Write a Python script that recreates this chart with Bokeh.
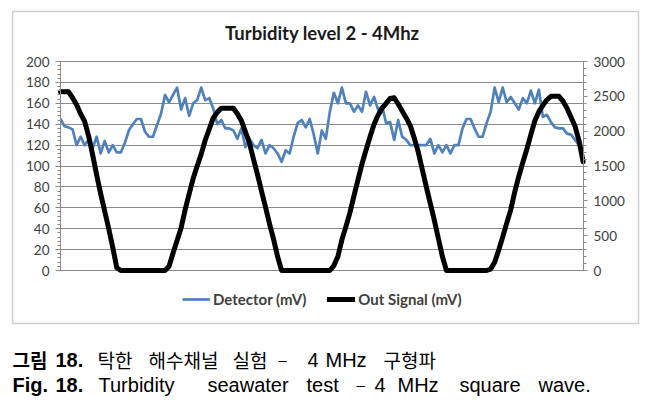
from bokeh.plotting import figure
from bokeh.models import (LinearAxis, Range1d, Label, Legend, LegendItem, Grid,
                          SingleIntervalTicker, BoxAnnotation)
from bokeh.embed import file_html
from bokeh.resources import INLINE

# ---- data ----
detector = [145, 138, 137, 135, 120, 128, 120, 125, 117, 128,
            112, 124, 113, 120, 113, 113, 122, 134, 140, 145,
            145, 133, 128, 128, 139, 150, 168, 161, 168, 175,
            154, 165, 148, 160, 163, 175, 163, 165, 155, 140,
            144, 136, 136, 134, 126, 136, 118, 126, 120, 117,
            125, 112, 120, 117, 112, 104, 115, 112, 128, 141,
            144, 137, 145, 130, 112, 134, 126, 152, 170, 160,
            175, 160, 160, 152, 158, 152, 171, 158, 166, 154,
            157, 141, 142, 125, 144, 128, 125, 120, 120, 120,
            120, 120, 126, 112, 120, 113, 120, 112, 120, 120,
            136, 145, 145, 136, 128, 128, 141, 152, 175, 161,
            175, 161, 166, 160, 154, 165, 160, 172, 160, 173,
            147, 149, 142, 137, 136, 136, 131, 130, 125, 120]

out_signal = [2565, 2565, 2565, 2480, 2380, 2250, 2140, 1930, 1660, 1370,
              1100, 850, 600, 330, 40, 0, 0, 0, 0, 0,
              0, 0, 0, 0, 0, 0, 0, 60, 250, 430,
              610, 870, 1100, 1320, 1500, 1670, 1870, 2030, 2190, 2270,
              2330, 2330, 2330, 2330, 2250, 2150, 1990, 1830, 1600, 1380,
              1140, 910, 670, 450, 200, 0, 0, 0, 0, 0,
              0, 0, 0, 0, 0, 0, 0, 0, 70, 200,
              440, 630, 830, 1070, 1300, 1530, 1730, 1920, 2100, 2230,
              2330, 2400, 2470, 2480, 2390, 2290, 2190, 2080, 1900, 1700,
              1450, 1200, 960, 720, 460, 200, 0, 0, 0, 0,
              0, 0, 0, 0, 0, 0, 0, 20, 120, 290,
              480, 680, 870, 1130, 1350, 1550, 1740, 1950, 2150, 2280,
              2370, 2450, 2500, 2500, 2500, 2430, 2330, 2200, 2070, 1860,
              1560]

t_det = list(range(len(detector)))
t_out = list(range(len(out_signal)))

left_max = 200
right_max = 3000
title_text = "Turbidity level 2  - 4Mhz"
series_names = ["Detector (mV)", "Out Signal (mV)"]
caption_kr = ["그림", "18.", "탁한", "해수채널", "실험", "–", "4", "MHz", "구형파"]
caption_en = ["Fig.", "18.", "Turbidity", "seawater", "test", "–", "4", "MHz", "square", "wave."]

# ---- layout: the frame fills the canvas; the plot area is placed by range padding ----
W, H = 659, 410
PL, PR, PT, PB = 60, 583, 61, 270      # plot-area pixel box
x_end_data = len(out_signal) - 1 + 0.1
xs = (PR - PL) / x_end_data
ys = (PB - PT) / left_max
x_range = Range1d(-PL / xs, x_end_data + (W - PR) / xs)
y_range = Range1d(-(H - PB) / ys, left_max + PT / ys)
ratio = right_max / left_max

p = figure(width=W, height=H, output_backend="svg", toolbar_location=None,
           x_range=x_range, y_range=y_range, min_border=0,
           background_fill_color="white", border_fill_color="white")
p.outline_line_color = None
p.xaxis.visible = False
p.xgrid.visible = False
p.ygrid.visible = False

p.extra_y_ranges = {"sig": Range1d(y_range.start * ratio, y_range.end * ratio)}

grid_col = "#8a8a8a"
axis_col = "#8a8a8a"
lab_col = "#404040"

left_ticker = SingleIntervalTicker(interval=20, num_minor_ticks=5)
right_ticker = SingleIntervalTicker(interval=500, num_minor_ticks=5)

grid_kw = dict(dimension=1, ticker=left_ticker, bounds=(0, left_max),
               grid_line_color=grid_col, grid_line_width=1)
if "cross_bounds" in Grid.properties():
    p.add_layout(Grid(cross_bounds=(0, x_end_data), **grid_kw))
    use_seg = False
else:
    use_seg = True

lax = p.yaxis[0]
lax.ticker = left_ticker
lax.bounds = (0, left_max)
lax.fixed_location = 0

rax = LinearAxis(y_range_name="sig", ticker=right_ticker, bounds=(0, right_max),
                 fixed_location=x_end_data)
p.add_layout(rax, "right")

for ax in (lax, rax):
    ax.axis_line_color = axis_col
    ax.axis_line_width = 1
    ax.major_tick_line_color = axis_col
    ax.minor_tick_line_color = axis_col
    ax.major_tick_in = 0
    ax.major_tick_out = 5
    ax.minor_tick_in = 0
    ax.minor_tick_out = 3
    ax.major_label_text_font = "Lato"
    ax.major_label_text_font_size = "13.5px"
    ax.major_label_text_color = lab_col
    ax.major_label_standoff = 6
rax.major_tick_out = 4

if use_seg:
    gy = list(range(0, left_max + 1, 20))
    p.segment(x0=[0] * len(gy), x1=[x_end_data] * len(gy), y0=gy, y1=gy,
              line_color=grid_col, line_width=1)

r_det = p.line(t_det, detector, line_color="#4F81BD", line_width=2.7, line_join="round")
r_out = p.line(t_out, out_signal, y_range_name="sig", line_color="black",
               line_width=5, line_join="round", line_cap="round")

legend = Legend(items=[LegendItem(label=series_names[0], renderers=[r_det]),
                       LegendItem(label=series_names[1], renderers=[r_out])],
                orientation="horizontal", location=(182, H - 308),
                glyph_width=28, glyph_height=18, label_standoff=3, spacing=21,
                padding=0, margin=0, border_line_color=None, background_fill_alpha=0,
                label_text_font="Lato", label_text_font_style="bold",
                label_text_font_size="15px", label_text_color=lab_col)
p.add_layout(legend)

# chart box border (screen units, origin bottom-left of canvas)
p.add_layout(BoxAnnotation(left=12, right=638, top=H - 11, bottom=H - 323,
                           left_units="screen", right_units="screen",
                           top_units="screen", bottom_units="screen",
                           fill_alpha=0, line_color="#606060", line_width=1.5))

p.add_layout(Label(x=324, y=H - 32, x_units="screen", y_units="screen",
                   text=title_text, text_align="center", text_baseline="middle",
                   text_font="Lato", text_font_style="bold", text_font_size="18.5px",
                   text_color="#1a1a1a"))

L1, L2 = 359, 384   # caption baselines (image px from top)
kr_x = [12, 55, 97, 148, 232, 278, 307, 325, 383]
kr_bold = [True, True, False, False, False, False, False, False, False]
kr_font = ["Noto Sans CJK KR", "Liberation Sans", "Noto Sans CJK KR", "Noto Sans CJK KR",
           "Noto Sans CJK KR", "Liberation Sans", "Liberation Sans", "Liberation Sans",
           "Noto Sans CJK KR"]
for w, x, b, f in zip(caption_kr, kr_x, kr_bold, kr_font):
    size = "19px" if "CJK" in f else ("15px" if w == "–" else "20px")
    p.add_layout(Label(x=x, y=H - L1, x_units="screen", y_units="screen", text=w,
                       text_font=f, text_font_style="bold" if b else "normal",
                       text_font_size=size,
                       text_baseline="alphabetic", text_color="black"))

en_x = [12, 55, 98, 207, 306, 356, 374, 397, 459, 538]
en_bold = [True, True] + [False] * 8
for w, x, b in zip(caption_en, en_x, en_bold):
    p.add_layout(Label(x=x, y=H - L2, x_units="screen", y_units="screen", text=w,
                       text_font="Liberation Sans", text_font_style="bold" if b else "normal",
                       text_font_size="15px" if w == "–" else "20px",
                       text_baseline="alphabetic", text_color="black"))

open("out.html", "w").write(file_html(p, INLINE))
